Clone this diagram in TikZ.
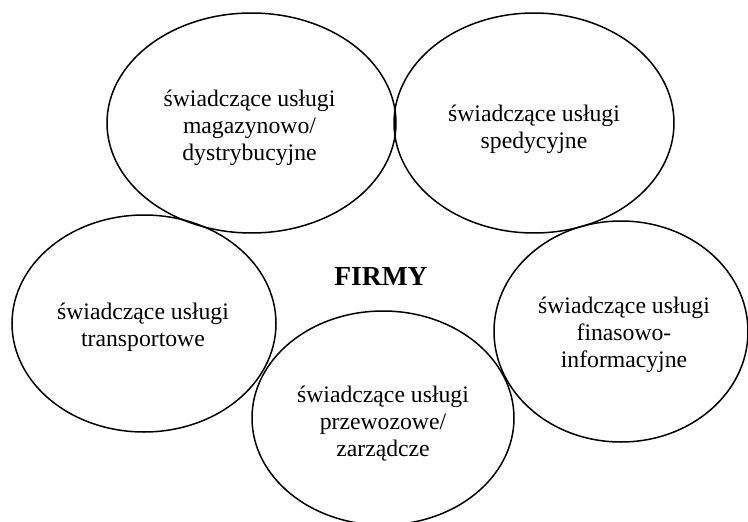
\documentclass[tikz,border=0pt]{standalone}
\usepackage{fontspec}
\setmainfont{Liberation Serif}
\usetikzlibrary{shapes.geometric}
\tikzset{
  area/.style={shape=ellipse, draw=black, line width=1.5pt, inner sep=0pt},
  areatext/.style={inner sep=0pt, align=center, font=\fontsize{23.7}{27}\selectfont},
  title/.style={font=\fontsize{27.5}{30}\selectfont\bfseries, inner sep=0pt}
}
\begin{document}
\begin{tikzpicture}[x=1pt, y=-1pt]
  \useasboundingbox (0,0) rectangle (748,522);
  % five service groups around the central label
  \node[area, minimum width=289pt, minimum height=220pt] (mag) at (251.5,123) {};
  \node[area, minimum width=280pt, minimum height=220pt] (spe) at (534,123) {};
  \node[area, minimum width=264pt, minimum height=217pt] (tra) at (144,323.5) {};
  \node[area, minimum width=254pt, minimum height=221pt] (fin) at (621,331.5) {};
  \node[area, minimum width=262pt, minimum height=214pt] (prz) at (383,418) {};
  % their captions
  \node[areatext] (magtxt) at ([shift={(-2,5)}]mag.center)
    {świadczące usługi\\magazynowo/\\dystrybucyjne};
  \node[areatext] (spetxt) at ([shift={(0,6)}]spe.center)
    {świadczące usługi\\spedycyjne};
  \node[areatext] (tratxt) at ([shift={(-1,4)}]tra.center)
    {świadczące usługi\\transportowe};
  \node[areatext] (fintxt) at ([shift={(3,3)}]fin.center)
    {świadczące usługi\\finasowo-\\informacyjne};
  \node[areatext] (prztxt) at ([shift={(0,6)}]prz.center)
    {świadczące usługi\\przewozowe/\\zarządcze};
  \node[title] (firmy) at (381,276) {FIRMY};
\end{tikzpicture}
\end{document}
